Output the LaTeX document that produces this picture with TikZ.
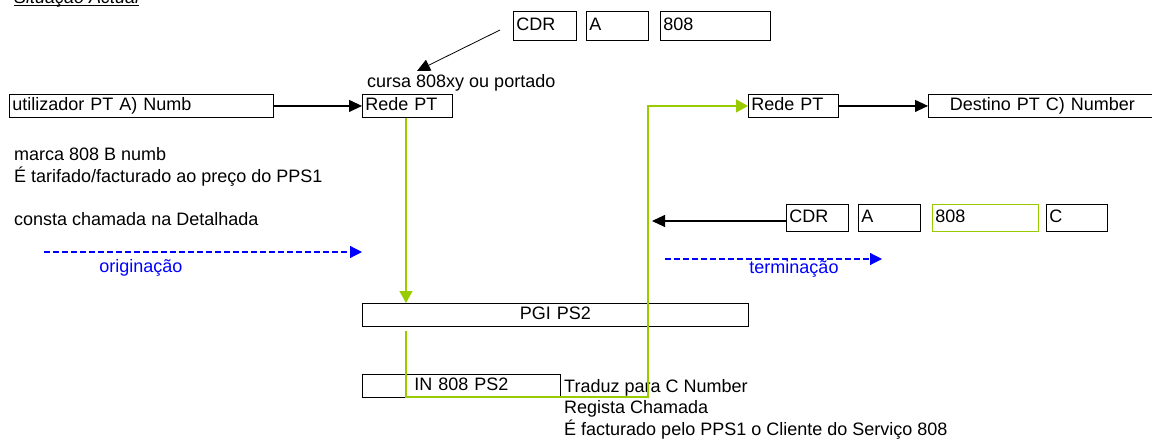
\documentclass[tikz,border=0pt]{standalone}
\usepackage{xcolor}
\usepackage{fontspec}
\setmainfont{Liberation Sans}
\usepackage{tikz}
\usetikzlibrary{arrows.meta, positioning, calc}
\definecolor{flowgreen}{RGB}{153, 204, 0}
\definecolor{legblue}{RGB}{0, 0, 255}
\newcommand{\figfont}{\fontsize{18}{21.5}\selectfont}
\tikzset{
    cell/.style={draw, line width=0.9pt, anchor=north west, inner xsep=3pt, inner ysep=0pt,
          minimum height=23pt, text height=13pt, text depth=4pt, text width=#1, align=left},
    cellc/.style={cell=#1, align=center},
    plain/.style={anchor=base west, inner sep=0pt, align=left},
    callarrow/.style={line width=1.1pt, -{Triangle[length=13pt, width=12pt]}},
    greenarrow/.style={draw=flowgreen, line width=1.4pt, -{Triangle[length=12pt, width=13pt]}},
    legarrow/.style={draw=legblue, line width=1.2pt, dash pattern=on 6pt off 3pt,
          -{Triangle[length=12pt, width=12pt]}}
}

\begin{document}
\begin{tikzpicture}[x=1pt, y=-1pt, font=\figfont]
    \useasboundingbox (0,0) rectangle (1152,444);

    \node[plain, font=\figfont\itshape] (title) at (14,3.5) {Situação Actual};
    \draw[line width=0.9pt] ([yshift=-1.5pt]title.base west) -- ([yshift=-1.5pt]title.base east);

    \node[cell=57pt, minimum height=29pt] (cdrA) at (513,11) {CDR};
    \node[cell=56pt, minimum height=29pt] (cdrAa) at (586,11) {A};
    \node[cell=104pt, minimum height=29pt] (cdrAn) at (660,11) {808};

    \node[plain] (cursa) at (367,88) {cursa 808xy ou portado};
    \node[cell=258pt] (user) at (9,94) {utilizador PT A) Numb};
    \node[cell=84pt] (redeA) at (362,94) {Rede PT};
    \node[cell=84pt] (redeB) at (748,94) {Rede PT};
    \node[cellc=222pt] (dest) at (928,94) {Destino PT C) Number};

    \node[plain] (marca) at (14,225) {marca 808 B numb\\
        É tarifado/facturado ao preço do PPS1\\[21.5pt]
        consta chamada na Detalhada};

    \node[cell=56pt, minimum height=27pt] (cdrB) at (786,204) {CDR};
    \node[cell=56pt, minimum height=27pt] (cdrBa) at (858,204) {A};
    \node[cell=100pt, minimum height=27pt, draw=flowgreen] (cdrBn) at (932,204) {808};
    \node[cell=55pt, minimum height=27pt] (cdrBc) at (1046,204) {C};

    \node[cellc=380pt] (pgi) at (362,303) {PGI PS2};
    \node[cellc=192pt] (in808) at (362,374) {IN 808 PS2};
    \node[plain] (traduz) at (564,435) {Traduz para C Number\\
        Regista Chamada\\
        É facturado pelo PPS1 o Cliente do Serviço 808};

    \coordinate (origA) at (44,252);
    \coordinate (origB) at (362,252);
    \draw[legarrow] (origA) -- (origB);
    \node[plain, anchor=base, text=legblue] (origlabel) at (141,272) {originação};

    \coordinate (termA) at (665,259);
    \coordinate (termB) at (882,259);
    \draw[legarrow] (termA) -- (termB);
    \node[plain, anchor=base, text=legblue] (termlabel) at (794,273) {terminação};

    \coordinate (cdrtail) at (500,30);
    \coordinate (cdrtip) at (417,71);
    \draw[callarrow, line width=0.8pt] (cdrtail) -- (cdrtip);
    \draw[callarrow] (user.east) -- (redeA.west);
    \draw[callarrow] (redeB.east) -- (dest.west);
    \coordinate (backtip) at (652,221);
    \draw[callarrow] (cdrB.west |- backtip) -- (backtip);

    \draw[greenarrow] ([xshift=44pt]redeA.south west) -- ([xshift=44pt]pgi.north west);
    \coordinate (turn) at (648,397);
    \draw[greenarrow] ([xshift=44pt, yshift=-4pt]pgi.south west) |- (turn) |- (redeB.west);
\end{tikzpicture}
\end{document}
